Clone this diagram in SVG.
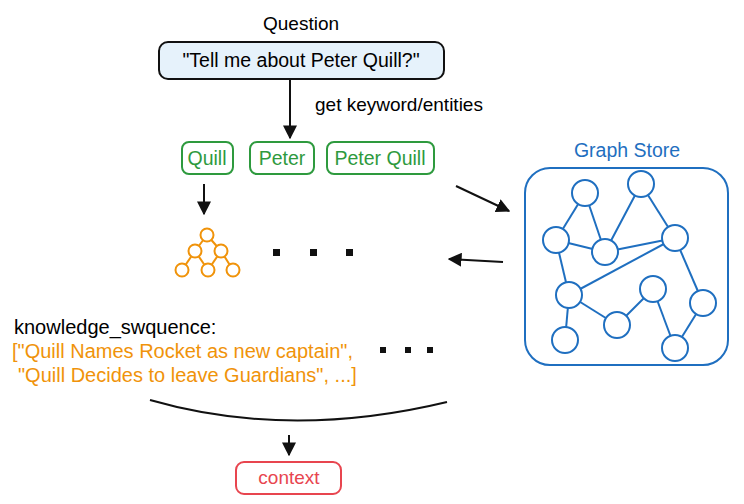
<svg xmlns="http://www.w3.org/2000/svg" width="744" height="504" viewBox="0 0 744 504">
<style>
text{font-family:"Liberation Sans",Arial,sans-serif}
.g{fill:#fff;stroke:#2e9a3e;stroke-width:2}
.gt{fill:#2e9a3e;font-size:19.5px;text-anchor:middle}
.gn circle{fill:#fff;stroke:#1f6fc0;stroke-width:2}
.gn line{stroke:#1f6fc0;stroke-width:2}
.tr circle{fill:#fff;stroke:#f0930a;stroke-width:2}
.tr line{stroke:#f0930a;stroke-width:2}
.c{stroke:#111;stroke-width:2;fill:none}
</style>
<defs><marker id="a" viewBox="0 0 10 10" refX="9" refY="5" markerWidth="7" markerHeight="7" orient="auto"><path d="M0,0L10,5L0,10z" fill="#111"/></marker></defs>
<rect width="744" height="504" fill="#fff"/>
<g id="question">
<text x="301" y="30" font-size="19" text-anchor="middle">Question</text>
<rect x="159" y="42" width="285" height="37" rx="9" fill="#e6f2fb" stroke="#111" stroke-width="2"/>
<text x="301" y="67" font-size="19.5" text-anchor="middle">"Tell me about Peter Quill?"</text>
</g>
<g id="kw-quill"><rect class="g" x="182" y="142" width="51" height="32" rx="7"/><text class="gt" x="207" y="165">Quill</text></g>
<g id="kw-peter"><rect class="g" x="250" y="142" width="64" height="32" rx="7"/><text class="gt" x="282" y="165">Peter</text></g>
<g id="kw-peterquill"><rect class="g" x="327" y="142" width="107" height="32" rx="7"/><text class="gt" x="380" y="165">Peter Quill</text></g>
<g id="tree" class="tr">
<line x1="207" y1="235" x2="195" y2="251"/><line x1="207" y1="235" x2="221" y2="251"/>
<line x1="195" y1="251" x2="182" y2="270"/><line x1="195" y1="251" x2="208" y2="270"/>
<line x1="221" y1="251" x2="208" y2="270"/><line x1="221" y1="251" x2="233" y2="270"/>
<circle cx="207" cy="235" r="6.5"/><circle cx="195" cy="251" r="6.5"/><circle cx="221" cy="251" r="6.5"/>
<circle cx="182" cy="270" r="6.5"/><circle cx="208" cy="270" r="6.5"/><circle cx="233" cy="270" r="6.5"/>
</g>
<g id="dots1" fill="#111"><rect x="273" y="249" width="7" height="7"/><rect x="310" y="249" width="7" height="7"/><rect x="346" y="249" width="7" height="7"/></g>
<g id="graphstore">
<text x="627" y="157" font-size="19.5" fill="#1f6fc0" text-anchor="middle">Graph Store</text>
<rect x="525" y="168" width="203" height="197" rx="25" fill="#fff" stroke="#1f6fc0" stroke-width="2"/>
<g class="gn">
<line x1="585" y1="193" x2="556" y2="240"/><line x1="585" y1="193" x2="605" y2="252"/>
<line x1="641" y1="184" x2="605" y2="252"/><line x1="641" y1="184" x2="675" y2="238"/>
<line x1="556" y1="240" x2="605" y2="252"/><line x1="605" y1="252" x2="675" y2="238"/>
<line x1="556" y1="240" x2="569" y2="295"/><line x1="675" y1="238" x2="569" y2="295"/>
<line x1="675" y1="238" x2="703" y2="303"/><line x1="569" y1="295" x2="617" y2="325"/>
<line x1="617" y1="325" x2="653" y2="289"/><line x1="653" y1="289" x2="675" y2="348"/>
<line x1="703" y1="303" x2="675" y2="348"/><line x1="569" y1="295" x2="565" y2="340"/>
<circle cx="585" cy="193" r="13"/><circle cx="641" cy="184" r="13"/><circle cx="556" cy="240" r="13"/>
<circle cx="605" cy="252" r="13"/><circle cx="675" cy="238" r="13"/><circle cx="569" cy="295" r="13"/>
<circle cx="653" cy="289" r="13"/><circle cx="703" cy="303" r="13"/><circle cx="617" cy="325" r="13"/>
<circle cx="565" cy="340" r="13"/><circle cx="675" cy="348" r="13"/>
</g>
</g>
<g id="knowledge">
<text x="14" y="334" font-size="20">knowledge_swquence:</text>
<text x="12" y="358" font-size="20" fill="#f0930a">["Quill Names Rocket as new captain",</text>
<text x="18" y="382" font-size="20" fill="#f0930a">"Quill Decides to leave Guardians", ...]</text>
</g>
<g id="dots2" fill="#111"><rect x="380" y="347" width="6" height="6"/><rect x="405" y="347" width="6" height="6"/><rect x="427" y="347" width="6" height="6"/></g>
<g id="context"><rect x="236" y="462" width="105" height="32" rx="8" fill="#fff" stroke="#e8454f" stroke-width="2"/><text x="289" y="484" font-size="19" fill="#e8454f" text-anchor="middle">context</text></g>
<g id="connectors">
<line class="c" x1="290" y1="80" x2="290" y2="138" marker-end="url(#a)"/>
<text x="315" y="111" font-size="19">get keyword/entities</text>
<line class="c" x1="204" y1="184" x2="204" y2="214" marker-end="url(#a)"/>
<line class="c" x1="456" y1="186" x2="509" y2="211" marker-end="url(#a)"/>
<line class="c" x1="503" y1="262" x2="449" y2="259" marker-end="url(#a)"/>
<path class="c" d="M150,400 Q289,440 447,402"/>
<line class="c" x1="289" y1="435" x2="289" y2="455" marker-end="url(#a)"/>
</g>
</svg>
